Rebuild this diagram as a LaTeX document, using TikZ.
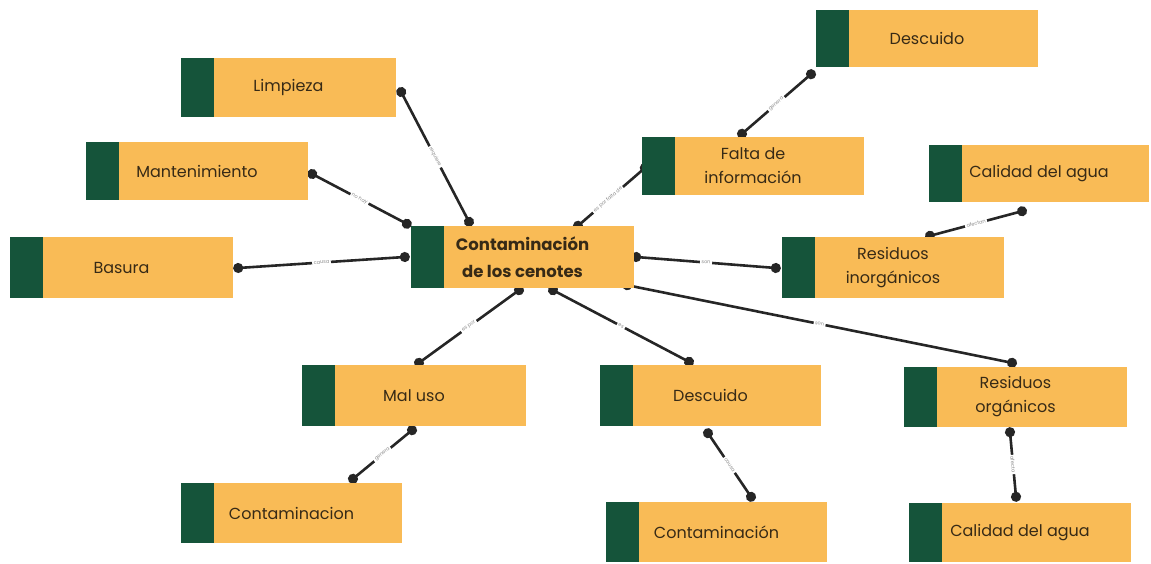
\documentclass[tikz,border=0pt]{standalone}
\usepackage{fontspec}
\setmainfont{Poppins}
\usetikzlibrary{arrows.meta}
\pgfdeclarelayer{bg}
\pgfsetlayers{bg,main}
\definecolor{boxor}{RGB}{249,187,86}
\definecolor{boxgr}{RGB}{21,84,58}
\definecolor{txt}{RGB}{55,42,22}
\tikzset{
 cbox/.style={fill=boxor, text=txt, font=\fontsize{16}{24}\selectfont, inner sep=0pt, align=center,
   minimum width=222pt, minimum height=59pt,
   path picture={\fill[boxgr] (path picture bounding box.north west) rectangle ([xshift=33pt]path picture bounding box.south west);}},
 conn/.style={draw=black!85, line width=2.6pt, {Circle[length=10pt]}-{Circle[length=10pt]}, shorten >=-5pt, shorten <=-5pt},
 lab/.style={sloped, pos=0.5, fill=white, text=black!45, font=\fontsize{5}{6}\selectfont, inner sep=1.5pt},
}
\begin{document}
\begin{tikzpicture}[x=1pt,y=-1pt]
\useasboundingbox (0,0) rectangle (1151,564);
% nodes
\node[cbox, minimum height=57pt] (desc1) at (927,38.5) {Descuido};
\node[cbox, minimum width=215pt] (lim) at (288.5,87.5) {Limpieza};
\node[cbox, minimum height=58pt] (mant) at (197,171) {Mantenimiento};
\node[cbox, minimum height=58pt] (falta) at (753,166) {Falta de\\información};
\node[cbox, minimum width=220pt, minimum height=57pt] (cal1) at (1039,173.5) {Calidad del agua};
\node[cbox, minimum width=223pt, minimum height=61pt] (bas) at (121.5,267.5) {Basura};
\node[cbox, minimum width=223pt, minimum height=62pt, font=\bfseries\fontsize{16.5}{27}\selectfont] (cen) at (522.5,257) {Contaminación\\de los cenotes};
\node[cbox, minimum height=61pt] (rin) at (893,267.5) {Residuos\\inorgánicos};
\node[cbox, minimum width=224pt, minimum height=61pt] (mal) at (414,395.5) {Mal uso};
\node[cbox, minimum width=221pt, minimum height=61pt] (desc2) at (710.5,395.5) {Descuido};
\node[cbox, minimum width=223pt, minimum height=60pt] (ror) at (1015.5,397) {Residuos\\orgánicos};
\node[cbox, minimum width=221pt, minimum height=60pt] (con1) at (291.5,513) {Contaminacion};
\node[cbox, minimum width=221pt, minimum height=60pt] (con2) at (716.5,532) {Contaminación};
\node[cbox, minimum height=59pt] (cal2) at (1020,532.5) {Calidad del agua};
% connectors
\begin{pgfonlayer}{bg}
\draw[conn] ([shift={(5,4.5)}]lim.east) -- node[lab]{requiere} ([shift={(-53.5,-4)}]cen.north);
\draw[conn] ([shift={(4,3)}]mant.east) -- node[lab]{no hay} ([shift={(-4,-2)}]cen.north west);
\draw[conn] ([shift={(55.5,0)}]cen.north) -- node[lab, pos=0.45]{es por falta de} ([shift={(3,2)}]falta.west);
\draw[conn] ([shift={(-116,7)}]desc1.south) -- node[lab]{genera} ([shift={(-11,-3)}]falta.north);
\draw[conn] ([shift={(5,0.5)}]bas.east) -- node[lab]{causa} ([shift={(-6,0)}]cen.west);
\draw[conn] ([shift={(2,0)}]cen.east) -- node[lab]{son} ([shift={(-6,0.5)}]rin.west);
\draw[conn] ([shift={(-17,9)}]cal1.south) -- node[lab]{afectan} ([shift={(37,-1)}]rin.north);
\draw[conn] ([shift={(-3.5,2)}]cen.south) -- node[lab]{es por} ([shift={(5,-2)}]mal.north);
\draw[conn] ([shift={(30.5,2)}]cen.south) -- node[lab]{es} ([shift={(-21.5,-3)}]desc2.north);
\draw[conn] ([shift={(-7,-3)}]cen.south east) -- node[lab]{son} ([shift={(-3.5,-4)}]ror.north);
\draw[conn] ([shift={(-2,4)}]mal.south) -- node[lab]{genera} ([shift={(61.5,-4)}]con1.north);
\draw[conn] ([shift={(-2.5,7)}]desc2.south) -- node[lab]{causa} ([shift={(34.5,-5)}]con2.north);
\draw[conn] ([shift={(-5.5,5)}]ror.south) -- node[lab]{afecta} ([shift={(-4,-6)}]cal2.north);
\end{pgfonlayer}
\end{tikzpicture}
\end{document}
